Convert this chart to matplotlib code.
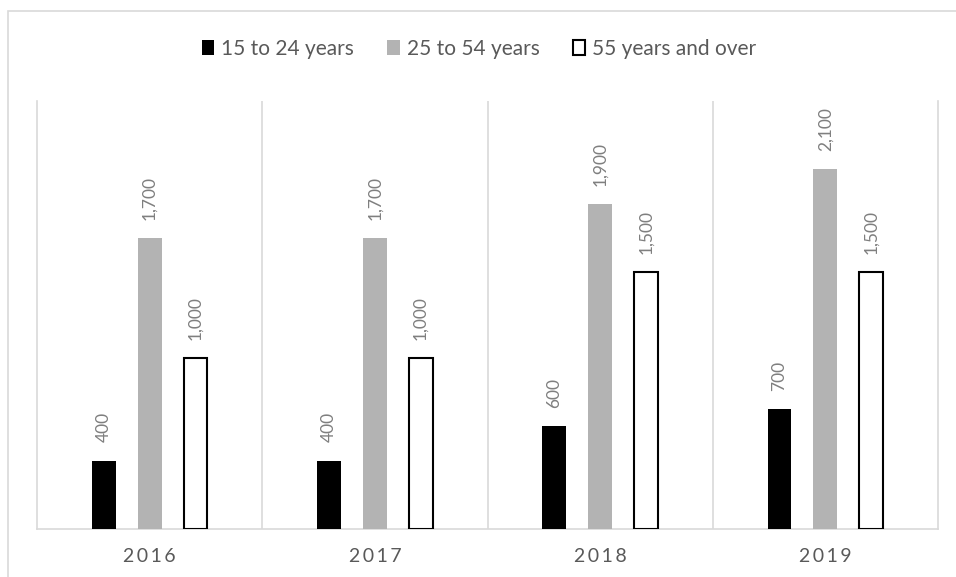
import numpy as np
import matplotlib.pyplot as plt
from matplotlib.patches import Rectangle

# Dữ liệu
years = ["2016", "2017", "2018", "2019"]
series = ["15 to 24 years", "25 to 54 years", "55 years and over"]
v15_24 = [400, 400, 600, 700]
v25_54 = [1700, 1700, 1900, 2100]
v55 = [1000, 1000, 1500, 1500]

plt.rcParams['font.family'] = ["Lato", "DejaVu Sans"]

fig = plt.figure(figsize=(9.56, 5.77), dpi=100)
ax = fig.add_axes([37/956, 48/577, 901/956, 428/577])

x = np.arange(len(years))
w = 0.106
d = 0.2035
grid_c = "#d9d9d9"

ax.bar(x - d, v15_24, w, color="black", label=series[0], zorder=3)
ax.bar(x, v25_54, w, color="#b3b3b3", label=series[1], zorder=3)
ax.bar(x + d, v55, w, color="white", edgecolor="black", linewidth=1.5, label=series[2], zorder=3)

for xs, vals in [(x - d, v15_24), (x, v25_54), (x + d, v55)]:
    for xi, v in zip(xs, vals):
        ax.annotate(f"{v:,}", (xi, v), xytext=(0, 13), textcoords="offset points",
                    rotation=90, ha="center", va="bottom", color="#7f7f7f", fontsize=12.5)

ax.set_xlim(-0.5, len(years) - 0.5)
ax.set_ylim(0, 2500)
ax.set_yticks([])
ax.set_xticks(x)
ax.set_xticklabels(["\u2009".join(y) for y in years], color="#595959", fontsize=14)
ax.tick_params(axis="x", length=0, pad=14)
for xb in [0.5, 1.5, 2.5]:
    ax.axvline(xb, color=grid_c, linewidth=1.2, zorder=1)
ax.spines["top"].set_visible(False)
for s in ["left", "right", "bottom"]:
    ax.spines[s].set_color(grid_c)
    ax.spines[s].set_linewidth(1.2)

leg = fig.legend(loc="center", bbox_to_anchor=(479/956, 1 - 49/577), ncol=3, frameon=False,
                 fontsize=15, handlelength=0.6, handleheight=0.7, handletextpad=0.33,
                 columnspacing=1.6, labelcolor="#595959")

# khung ngoài
fig.patches.append(Rectangle((8/956, -0.1), 1.2, 1.1 - 11/577, transform=fig.transFigure,
                             fill=False, edgecolor=grid_c, linewidth=1.2))

fig.savefig("out.png", dpi=100)
